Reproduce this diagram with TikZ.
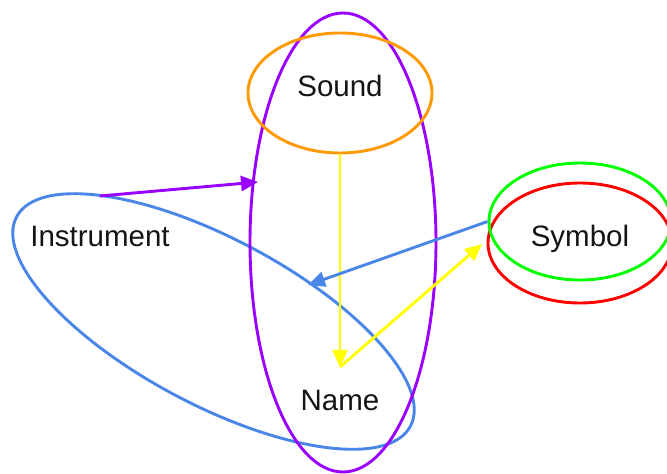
\documentclass[tikz,border=0pt]{standalone}
\usepackage{fontspec}
\setmainfont{Liberation Sans}
\usetikzlibrary{shapes.geometric,arrows.meta}
\definecolor{cpurple}{HTML}{9900FF}
\definecolor{corange}{HTML}{FF9900}
\definecolor{cyellow}{HTML}{FFFF00}
\definecolor{cgreen}{HTML}{00FF00}
\definecolor{cred}{HTML}{FF0000}
\definecolor{cblue}{HTML}{4A86E8}
\tikzset{
  oval/.style={ellipse, draw, line width=2.9pt, inner sep=0pt},
  lbl/.style={anchor=base, font=\fontsize{29.5}{34}\selectfont, text=black!92},
  conn/.style={line width=2.9pt, -{Triangle[length=17pt,width=15pt]}}
}
\begin{document}
\begin{tikzpicture}[x=1pt,y=1pt]
\useasboundingbox (0,0) rectangle (667,474);
% ellipses
\node[oval, draw=cblue, rotate=-28, minimum width=446pt, minimum height=166pt] (instE) at (213.5,152.5) {};
\node[oval, draw=cpurple, minimum width=186pt, minimum height=459pt] (nameE) at (343,231.5) {};
\node[oval, draw=corange, minimum width=184pt, minimum height=120pt] (soundE) at (340,381) {};
\node[oval, draw=cred, minimum width=184pt, minimum height=120pt] (symR) at (580,231) {};
\node[oval, draw=cgreen, minimum width=182pt, minimum height=117pt] (symG) at (580,252.5) {};
% labels
\node[lbl] (sound) at (340,377) {Sound};
\node[lbl] (inst) at (100,227) {Instrument};
\node[lbl] (symbol) at (580,227) {Symbol};
\node[lbl] (name) at (340,63) {Name};
% connector end points
\coordinate (nmTip) at (340,107);
\coordinate (symTip) at (482,230);
\coordinate (instTip) at (308,189);
\coordinate (instStart) at (100,278);
\coordinate (nameTip) at (258,292);
% connectors
\draw[conn, draw=cyellow, fill=cyellow] (soundE.south) -- (nmTip);
\draw[conn, draw=cyellow, fill=cyellow] (nmTip) -- (symTip);
\draw[conn, draw=cblue, fill=cblue] (symG.west) -- (instTip);
\draw[conn, draw=cpurple, fill=cpurple] (instStart) -- (nameTip);
\end{tikzpicture}
\end{document}
